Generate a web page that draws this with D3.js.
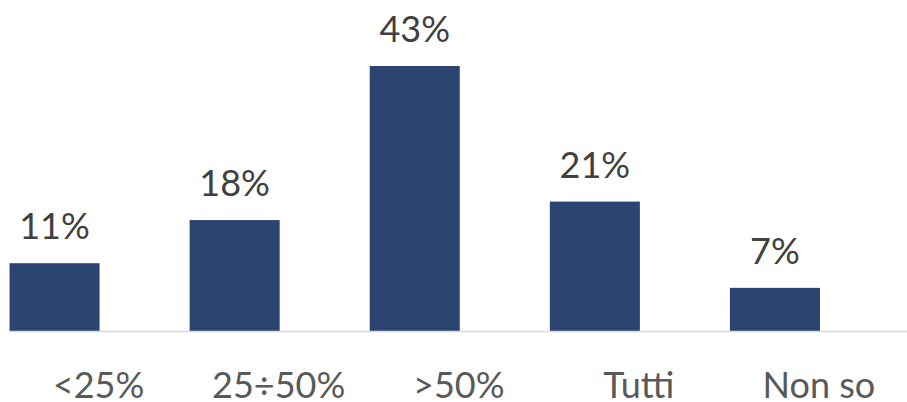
<!DOCTYPE html>
<html>
<head>
<meta charset="utf-8">
<script src="https://cdn.jsdelivr.net/npm/d3@7"></script>
<style>
  html, body { margin: 0; padding: 0; background: #fff; }
  svg { display: block; font-family: Lato, "Open Sans", sans-serif; }
</style>
</head>
<body>
<svg id="chart" width="907" height="402"></svg>
<script>
// chart data
var categories = ["<25%", "25÷50%", ">50%", "Tutti", "Non so"];
var values = [11, 18, 43, 21, 7];

var svg = d3.select("#chart");
var baseline = 331;

// category bands (the plot starts slightly left of the visible area)
var x = d3.scaleBand()
  .domain(categories)
  .range([-35.5, 865])
  .paddingInner(0.5)
  .paddingOuter(0.25);

var y = d3.scaleLinear()
  .domain([0, 43])
  .range([baseline, 66]);

// bars
svg.selectAll("rect.bar")
  .data(values)
  .enter().append("rect")
  .attr("class", "bar")
  .attr("x", function(d, i){ return x(categories[i]) })
  .attr("width", x.bandwidth())
  .attr("y", function(d){ return y(d) })
  .attr("height", function(d){ return baseline - y(d) })
  .attr("fill", "#2c4470");

// axis line
svg.append("line")
  .attr("x1", 9).attr("x2", 907)
  .attr("y1", baseline + 0.5).attr("y2", baseline + 0.5)
  .attr("stroke", "#d9d9d9")
  .attr("stroke-width", 1.5);

// value labels
svg.selectAll("text.val")
  .data(values)
  .enter().append("text")
  .attr("class", "val")
  .attr("x", function(d, i){ return x(categories[i]) + x.bandwidth() / 2 })
  .attr("y", function(d){ return y(d) - 24 })
  .attr("text-anchor", "middle")
  .attr("font-size", 36)
  .attr("fill", "#404040")
  .text(function(d){ return d + "%" });

// category labels (offset to the right of the bars, as in the original)
var axis = svg.append("g")
  .attr("transform", "translate(0," + baseline + ")")
  .call(d3.axisBottom(x).tickSize(0));
axis.select(".domain").remove();
axis.selectAll("text")
  .attr("dx", 44)
  .attr("y", 67)
  .attr("dy", 0)
  .attr("font-size", 36)
  .attr("font-family", "Lato, 'Open Sans', sans-serif")
  .attr("fill", "#595959");
</script>
</body>
</html>
